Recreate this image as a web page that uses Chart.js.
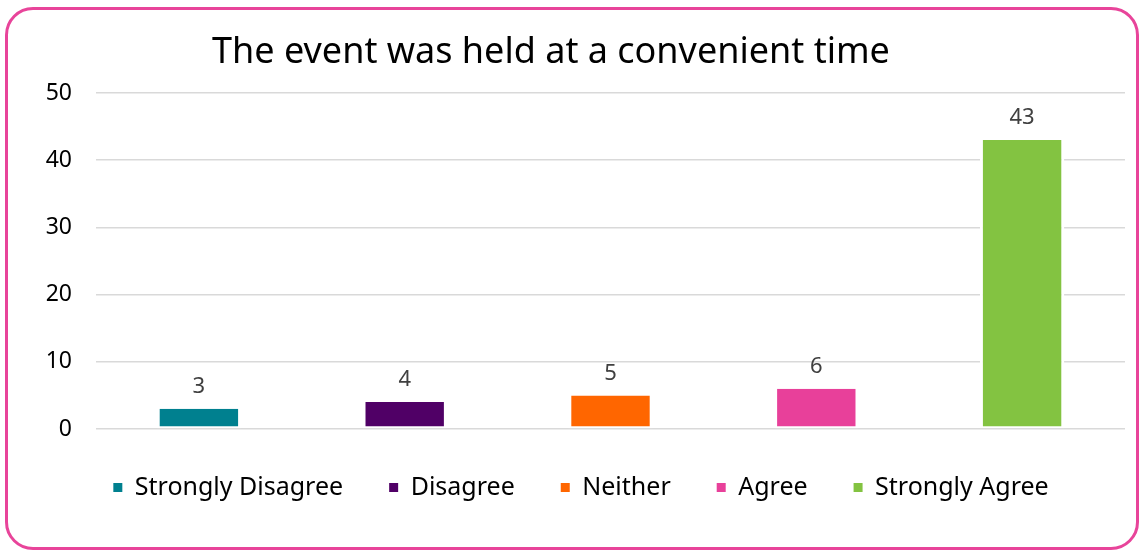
<!DOCTYPE html>
<html>
<head>
<meta charset="utf-8">
<script src="https://cdn.jsdelivr.net/npm/chart.js@4.4.1/dist/chart.umd.min.js"></script>
<style>
  html, body { margin: 0; padding: 0; background: #fff; }
  #wrap { position: relative; width: 1140px; height: 552px; }
  #frame {
    position: absolute; left: 5px; top: 7px; width: 1128px; height: 537px;
    border: 3px solid #E8449A; border-radius: 28px; pointer-events: none;
  }
  #title {
    position: absolute; left: 151px; top: 28px; width: 800px;
    text-align: center; font: 36px "Noto Sans", sans-serif; line-height: 44px;
    color: #000; white-space: nowrap;
  }
</style>
</head>
<body>
<div id="wrap">
  <canvas id="chart" width="1140" height="552"></canvas>
  <div id="title">The event was held at a convenient time</div>
  <div id="frame"></div>
</div>
<script>
const categories = ['Strongly Disagree', 'Disagree', 'Neither', 'Agree', 'Strongly Agree'];
const counts = [3, 4, 5, 6, 43];
const barColors = ['#00808F', '#500066', '#FF6600', '#E8409A', '#83C341'];
const yTicks = [0, 10, 20, 30, 40, 50];

const FONT = '"Noto Sans", sans-serif';

// value written above each bar
const valueLabels = {
  id: 'valueLabels',
  afterDatasetsDraw(chart) {
    const ctx = chart.ctx;
    const meta = chart.getDatasetMeta(0);
    ctx.save();
    ctx.font = '22px ' + FONT;
    ctx.fillStyle = '#404040';
    ctx.textAlign = 'center';
    ctx.textBaseline = 'middle';
    meta.data.forEach((bar, i) => {
      ctx.fillText(String(counts[i]), bar.x, bar.y - 22);
    });
    ctx.restore();
  }
};

new Chart(document.getElementById('chart'), {
  type: 'bar',
  data: {
    labels: categories,
    datasets: [{
      data: counts,
      backgroundColor: barColors,
      borderColor: '#ffffff',
      borderWidth: { left: 3, right: 3, top: 0, bottom: 2 },
      borderSkipped: false,
      categoryPercentage: 1,
      barPercentage: 0.41
    }]
  },
  options: {
    responsive: false,
    animation: false,
    layout: { padding: { left: 37, right: 15, top: 93, bottom: 42 } },
    plugins: {
      title: { display: false },
      legend: {
        position: 'bottom',
        labels: {
          color: '#000',
          font: { family: FONT, size: 25 },
          boxWidth: 9,
          boxHeight: 9,
          padding: 46,
          generateLabels: () => categories.map((c, i) => ({
            text: c,
            fillStyle: barColors[i],
            strokeStyle: barColors[i],
            lineWidth: 0,
            index: i
          }))
        }
      },
      tooltip: { enabled: false }
    },
    scales: {
      x: {
        display: false,
        grid: { display: false }
      },
      y: {
        min: 0,
        max: 50,
        afterFit: (scale) => { scale.width = 59; },
        afterBuildTicks: (scale) => { scale.ticks = yTicks.map(v => ({ value: v })); },
        border: { display: false },
        grid: { color: '#D9D9D9', lineWidth: 1.5, drawTicks: false },
        ticks: {
          color: '#000',
          padding: 24,
          font: { family: FONT, size: 23 }
        }
      }
    }
  },
  plugins: [valueLabels]
});
</script>
</body>
</html>
